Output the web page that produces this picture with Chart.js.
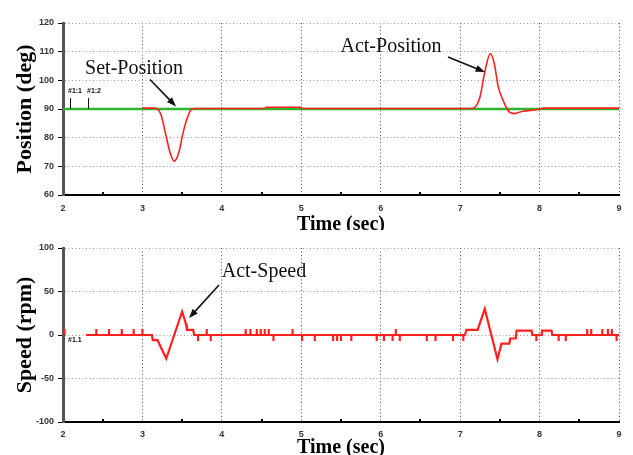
<!DOCTYPE html>
<html>
<head>
<meta charset="utf-8">
<title>Position / Speed</title>
<script src="https://cdn.jsdelivr.net/npm/chart.js@4.4.1/dist/chart.umd.min.js"></script>
<style>
  body { margin: 0; background: #fff; }
  #wrap { position: relative; width: 633px; height: 455px; overflow: hidden; }
  .box { position: absolute; left: 0; width: 633px; }
  #posBox { top: 0; height: 230px; }
  #speedBox { top: 230px; height: 225px; }
</style>
</head>
<body>
<div id="wrap">
  <div class="box" id="posBox"><canvas id="posChart"></canvas></div>
  <div class="box" id="speedBox"><canvas id="speedChart"></canvas></div>
</div>
<script>
// time ticks (sec)
var timeTicks = [2, 3, 4, 5, 6, 7, 8, 9];

// set position (deg)
var setPosTime = [2, 9];
var setPosDeg = [90, 90];

// actual position (deg)
var actPosTime = [3.0, 3.15, 3.19, 3.24, 3.29, 3.35, 3.40, 3.46, 3.51, 3.56, 3.62, 3.66, 4.54, 4.56, 4.99, 5.01,
                  7.15, 7.20, 7.25, 7.31, 7.38, 7.43, 7.48, 7.54, 7.60, 7.68, 7.79, 8.0, 8.05, 9.0];
var actPosDeg = [90.3, 90.3, 90.0, 87.5, 81.5, 74.6, 71.8, 75.0, 81.5, 86.5, 90.0, 90.2, 90.2, 90.6, 90.6, 90.2,
                 90.2, 91.0, 94.2, 102.9, 109.3, 105.8, 97.7, 93.1, 89.6, 88.4, 89.2, 89.9, 90.3, 90.3];

// actual speed (rpm)
var speedTime = [2.2, 2.29, 3.12, 3.13, 3.19, 3.30, 3.50, 3.55, 3.56, 3.64, 3.65,
                 7.06, 7.08, 7.22, 7.31, 7.47, 7.52, 7.62, 7.63, 7.70, 7.71, 7.90, 7.91, 8.02, 8.03, 8.15, 8.16, 9.0];
var speedRpm = [null, 0, 0, -6, -6, -27, 27, 12, 6, 6, 0,
                0, 6, 6, 30, -28, -10, -10, -4, -4, 5, 5, 0, 0, 5, 5, 0, 0];

// single-sample speed glitches
var glitchTime = [2.02, 2.42, 2.58, 2.74, 2.89, 3.00, 3.70, 3.81, 3.86, 4.30, 4.36, 4.44, 4.49, 4.54, 4.59, 4.65,
                  4.89, 5.01, 5.17, 5.40, 5.45, 5.50, 5.63, 5.95, 6.04, 6.15, 6.19, 6.24, 6.58, 6.69, 6.91, 7.04,
                  7.96, 8.24, 8.33, 8.60, 8.65, 8.79, 8.86, 8.91, 8.97];
var glitchRpm = [7, 7, 7, 7, 7, 7, -7, 7, -7, 7, 7, 7, 7, 7, 7, -7,
                 7, -7, -7, -7, -7, -7, -7, -7, -7, -7, 7, -7, -7, -7, -7, -7,
                 -7, -7, -7, 7, 7, 7, 7, 7, -7];

function pairs(xs, ys) {
  var out = [];
  for (var i = 0; i < xs.length; i++) out.push({x: xs[i], y: ys[i]});
  return out;
}

function speedPoints() {
  var pts = pairs(speedTime, speedRpm);
  for (var j = 0; j < glitchTime.length; j++) {
    pts.push({x: glitchTime[j], y: 0}, {x: glitchTime[j], y: glitchRpm[j]}, {x: glitchTime[j], y: 0});
  }
  // sort is stable, so each glitch keeps its up/down order
  return pts.sort(function (a, b) { return a.x - b.x; });
}

// text + arrows placed in data units
var notesPlugin = {
  id: 'notes',
  afterDatasetsDraw: function (chart, args, opts) {
    var ctx = chart.ctx;
    var xs = chart.scales.x, ys = chart.scales.y;
    ctx.save();
    ctx.strokeStyle = '#111';
    ctx.fillStyle = '#111';
    (opts.lines || []).forEach(function (l) {
      ctx.lineWidth = 1;
      ctx.beginPath();
      ctx.moveTo(Math.round(xs.getPixelForValue(l[0])) + 0.5, ys.getPixelForValue(l[1]));
      ctx.lineTo(Math.round(xs.getPixelForValue(l[2])) + 0.5, ys.getPixelForValue(l[3]));
      ctx.stroke();
    });
    (opts.arrows || []).forEach(function (a) {
      var x0 = xs.getPixelForValue(a[0]), y0 = ys.getPixelForValue(a[1]);
      var x1 = xs.getPixelForValue(a[2]), y1 = ys.getPixelForValue(a[3]);
      var ang = Math.atan2(y1 - y0, x1 - x0);
      ctx.lineWidth = 1.6;
      ctx.beginPath();
      ctx.moveTo(x0, y0);
      ctx.lineTo(x1 - 6 * Math.cos(ang), y1 - 6 * Math.sin(ang));
      ctx.stroke();
      ctx.beginPath();
      ctx.moveTo(x1, y1);
      ctx.lineTo(x1 - 10 * Math.cos(ang - 0.35), y1 - 10 * Math.sin(ang - 0.35));
      ctx.lineTo(x1 - 10 * Math.cos(ang + 0.35), y1 - 10 * Math.sin(ang + 0.35));
      ctx.closePath();
      ctx.fill();
    });
    (opts.labels || []).forEach(function (n) {
      ctx.font = n.font;
      ctx.textAlign = n.align || 'center';
      ctx.textBaseline = 'middle';
      ctx.fillText(n.text, xs.getPixelForValue(n.x), ys.getPixelForValue(n.y));
    });
    // half-second marks on the time axis
    ctx.fillStyle = '#000';
    for (var t = xs.min + 0.5; t < xs.max; t += 1) {
      ctx.fillRect(Math.round(xs.getPixelForValue(t)) - 1, ys.bottom - 3, 2, 3);
    }
    ctx.restore();
  }
};

function timeAxis(labelPad, titlePad, height) {
  return {
    type: 'linear',
    min: timeTicks[0],
    max: timeTicks[timeTicks.length - 1],
    afterBuildTicks: function (scale) {
      scale.ticks = timeTicks.map(function (v) { return {value: v}; });
    },
    afterFit: function (scale) { scale.height = height; },
    grid: { color: '#555', lineWidth: 1, drawTicks: false, borderDash: [1, 2.5] },
    border: { color: '#000', width: 2, dash: [1, 2.5] },
    ticks: { padding: labelPad, color: '#333', font: { family: 'Liberation Sans', size: 9, weight: 'bold' } },
    title: {
      display: true, text: 'Time (sec)', color: '#000',
      padding: { top: 0, bottom: titlePad },
      font: { family: 'Liberation Serif', size: 20, weight: 'bold' }
    }
  };
}

function valueAxis(title, min, max, step) {
  return {
    min: min, max: max,
    ticks: { stepSize: step, padding: 4, color: '#333', font: { family: 'Liberation Sans', size: 9, weight: 'bold' } },
    afterFit: function (scale) { scale.width = 63; },
    grid: { color: '#999', lineWidth: 1, drawTicks: true, tickLength: 5, tickColor: '#000', tickBorderDash: [], borderDash: [1, 2.5] },
    border: { color: '#555', width: 3, dash: [1, 2.5] },
    title: {
      display: true, text: title, color: '#000',
      padding: { top: 12, bottom: 0 },
      font: { family: 'Liberation Serif', size: 22, weight: 'bold' }
    }
  };
}

var posChart = new Chart(document.getElementById('posChart').getContext('2d'), {
  type: 'line',
  data: {
    datasets: [
      { label: 'Act-Position', data: pairs(actPosTime, actPosDeg), borderColor: '#ff2020', borderWidth: 1.6,
        pointRadius: 0, cubicInterpolationMode: 'monotone', order: 0 },
      { label: 'Set-Position', data: pairs(setPosTime, setPosDeg), borderColor: '#2db52d', borderWidth: 2.5,
        pointRadius: 0, order: 1 }
    ]
  },
  options: {
    responsive: true,
    maintainAspectRatio: false,
    animation: false,
    layout: { padding: { left: 0, right: 14, top: 23, bottom: 0 } },
    scales: {
      x: timeAxis(8, -7, 35),
      y: valueAxis('Position (deg)', 60, 120, 10)
    },
    plugins: {
      legend: { display: false },
      tooltip: { enabled: false },
      notes: {
        labels: [
          { text: 'Set-Position', x: 2.894, y: 103.9, font: '20px "Liberation Serif"' },
          { text: 'Act-Position', x: 6.13, y: 111.6, font: '20px "Liberation Serif"' },
          { text: '#1:1', x: 2.063, y: 96.1, align: 'left', font: 'bold 7px "Liberation Sans"' },
          { text: '#1:2', x: 2.302, y: 96.1, align: 'left', font: 'bold 7px "Liberation Sans"' }
        ],
        arrows: [
          [3.095, 100.3, 3.423, 90.9],
          [6.847, 108.1, 7.313, 102.9]
        ],
        lines: [
          [2.088, 90, 2.088, 93.8],
          [2.318, 90, 2.318, 93.8]
        ]
      }
    }
  },
  plugins: [notesPlugin]
});

var speedChart = new Chart(document.getElementById('speedChart').getContext('2d'), {
  type: 'line',
  data: {
    datasets: [
      { label: 'Act-Speed', data: speedPoints(), borderColor: '#ff2020', borderWidth: 2.2,
        pointRadius: 0, spanGaps: false }
    ]
  },
  options: {
    responsive: true,
    maintainAspectRatio: false,
    animation: false,
    layout: { padding: { left: 0, right: 14, top: 18, bottom: 0 } },
    scales: {
      x: timeAxis(7, -5, 33),
      y: valueAxis('Speed (rpm)', -100, 100, 50)
    },
    plugins: {
      legend: { display: false },
      tooltip: { enabled: false },
      notes: {
        labels: [
          { text: 'Act-Speed', x: 4.53, y: 72.4, font: '20px "Liberation Serif"' },
          { text: '#1.1', x: 2.063, y: -5.7, align: 'left', font: 'bold 7px "Liberation Sans"' }
        ],
        arrows: [
          [3.964, 57.5, 3.586, 19.5]
        ]
      }
    }
  },
  plugins: [notesPlugin]
});
</script>
</body>
</html>
